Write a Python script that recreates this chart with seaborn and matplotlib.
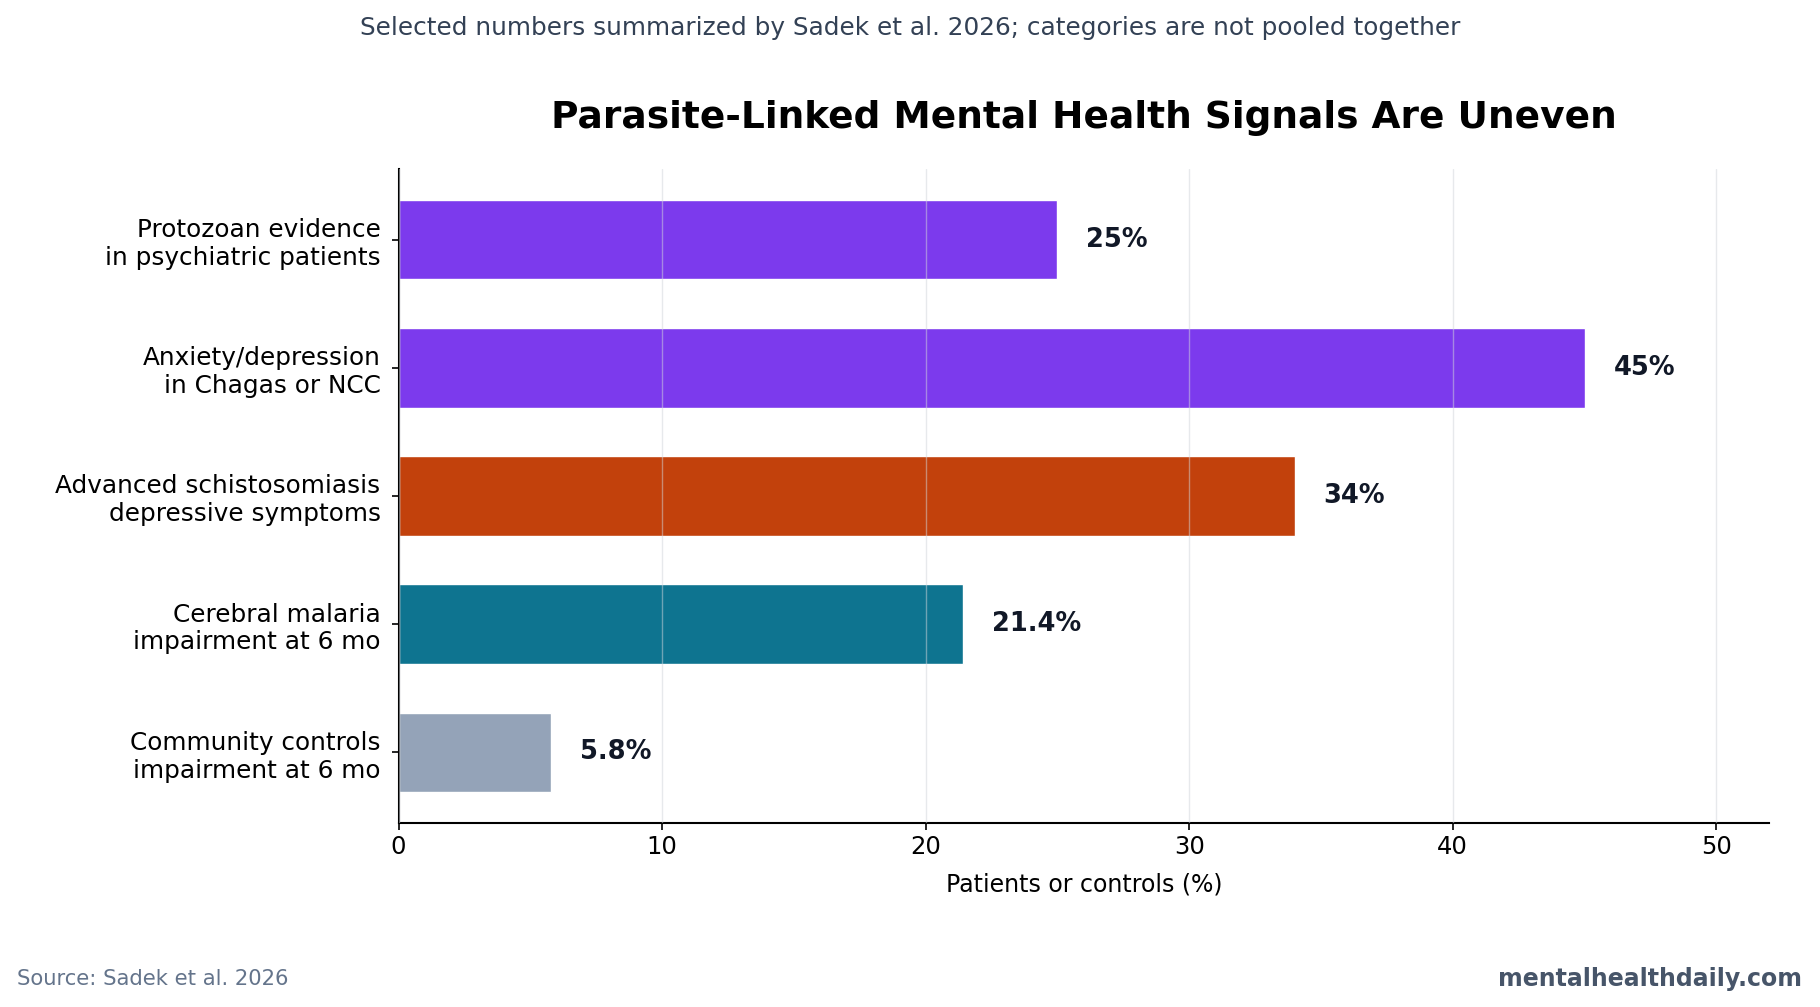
import matplotlib
matplotlib.use("Agg")
import matplotlib.pyplot as plt
import pandas as pd
import seaborn as sns

# data
categories = [
    "Protozoan evidence\nin psychiatric patients",
    "Anxiety/depression\nin Chagas or NCC",
    "Advanced schistosomiasis\ndepressive symptoms",
    "Cerebral malaria\nimpairment at 6 mo",
    "Community controls\nimpairment at 6 mo",
]
values = [25, 45, 34, 21.4, 5.8]
value_labels = ["25%", "45%", "34%", "21.4%", "5.8%"]
bar_colors = ["#7c3aed", "#7c3aed", "#c2410c", "#0e7490", "#94a3b8"]

df = pd.DataFrame({"category": categories, "value": values})

sns.set_style("white")
plt.rcParams["font.family"] = ["DejaVu Sans"]

fig = plt.figure(figsize=(18.2, 10.07), dpi=100)
ax = fig.add_axes([0.219, 0.183, 0.753, 0.649])

sns.barplot(data=df, x="value", y="category", hue="category",
            palette=bar_colors, legend=False, orient="h", width=0.62,
            saturation=1, ax=ax)

# value labels
for i, (v, lab) in enumerate(zip(values, value_labels)):
    ax.text(v + 1.1, i, lab, va="center", ha="left", fontsize=18.5,
            fontweight="bold", color="#111827")

ax.set_xlim(0, 52.0)
ax.set_ylim(4.55, -0.55)
ax.set_xticks([0, 10, 20, 30, 40, 50])
ax.grid(axis="x", color="#d1d5db", linewidth=1, alpha=0.5)
ax.set_axisbelow(False)
ax.tick_params(axis="both", labelsize=17.5, length=5, width=1.2, color="black",
               labelcolor="black", left=True, bottom=True)
ax.tick_params(axis="y", labelsize=17.8, pad=8)
ax.set_xlabel("Patients or controls (%)", fontsize=17, labelpad=10, color="black")
ax.set_ylabel("")
for s in ["top", "right"]:
    ax.spines[s].set_visible(False)
for s in ["left", "bottom"]:
    ax.spines[s].set_color("black")
    ax.spines[s].set_linewidth(1.5)

ax.set_title("Parasite-Linked Mental Health Signals Are Uneven",
             fontsize=27, fontweight="bold", pad=30, color="black")

fig.text(0.5, 0.972, "Selected numbers summarized by Sadek et al. 2026; categories are not pooled together",
         ha="center", va="center", fontsize=17.8, color="#334155")
fig.text(0.0095, 0.028, "Source: Sadek et al. 2026", ha="left", va="center",
         fontsize=15.2, color="#64748b")
fig.text(0.99, 0.028, "mentalhealthdaily.com", ha="right", va="center",
         fontsize=17, fontweight="bold", color="#475569")

fig.savefig("out.png", dpi=100)
